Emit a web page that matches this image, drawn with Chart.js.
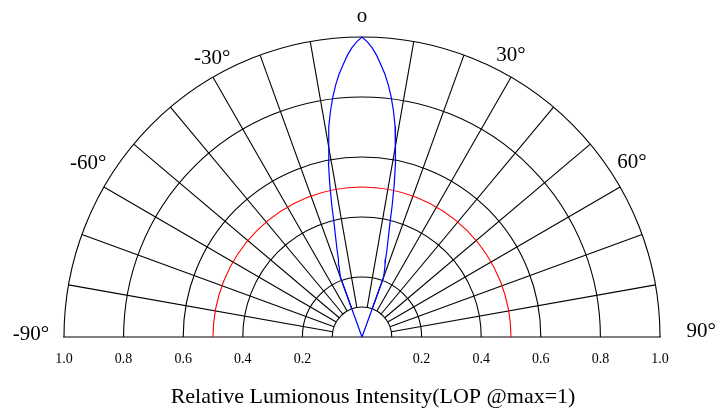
<!DOCTYPE html>
<html>
<head>
<meta charset="utf-8">
<script src="https://cdn.jsdelivr.net/npm/chart.js@4.4.1/dist/chart.umd.min.js"></script>
<style>
  html, body { margin: 0; padding: 0; background: #fff; }
  #wrap { width: 718px; height: 410px; }
</style>
</head>
<body>
<div id="wrap"><canvas id="c"></canvas></div>
<script>
// beam profile: angle (deg from axis) -> relative intensity
var angles    = [-90, -20, -19, -18, -17, -16, -15, -14, -13, -12, -11, -10, -9, -8, -7, -6, -5, -4, -3, -2, -1, 0,
                 1, 2, 3, 4, 5, 6, 7, 8, 9, 10, 11, 12, 13, 14, 15, 16, 17, 18, 19, 20, 90];
var intensity = [0, 0.21, 0.23, 0.25, 0.27, 0.305, 0.34, 0.385, 0.45, 0.52, 0.59, 0.645, 0.71, 0.76, 0.805, 0.845, 0.88, 0.91, 0.94, 0.965, 0.985, 1.0,
                 0.985, 0.965, 0.94, 0.91, 0.88, 0.845, 0.805, 0.76, 0.71, 0.645, 0.59, 0.52, 0.45, 0.385, 0.34, 0.305, 0.27, 0.25, 0.23, 0.21, 0];

var ringValues = [0.1, 0.2, 0.4, 0.6, 0.8, 1.0];
var halfRing = 0.5;
var spokeAngles = [-80, -70, -60, -50, -40, -30, -20, -10, 10, 20, 30, 40, 50, 60, 70, 80];
var tickValues = [-1, -0.8, -0.6, -0.4, -0.2, 0, 0.2, 0.4, 0.6, 0.8, 1];
var angleLabels = ['-90°', '-60°', '-30°', 'o', '30°', '60°', '90°'];
var titleText = 'Relative Lumionous Intensity(LOP @max=1)';

function toXY(a, r) {
  var t = a * Math.PI / 180;
  return { x: r * Math.sin(t), y: r * Math.cos(t) };
}

var beam = angles.map(function(a, i) { return toXY(a, intensity[i]); });

// where the angle labels sit, in axis units
var labelSpots = {
  '-90°': [-1.111, 0.007], '-60°': [-0.919, 0.58], '-30°': [-0.503, 0.93],
  'o': [0, 1.067], '30°': [0.5, 0.94], '60°': [0.906, 0.583], '90°': [1.138, 0.017]
};

var polarGrid = {
  id: 'polarGrid',
  beforeDatasetsDraw: function(chart) {
    var ctx = chart.ctx, xs = chart.scales.x, ys = chart.scales.y;
    var cx = xs.getPixelForValue(0), cy = ys.getPixelForValue(0);
    var kx = xs.getPixelForValue(1) - cx, ky = cy - ys.getPixelForValue(1);
    ctx.save();
    ctx.strokeStyle = '#000';
    ctx.lineWidth = 1.1;
    ringValues.forEach(function(r) {
      ctx.beginPath();
      ctx.ellipse(cx, cy, r * kx, r * ky, 0, Math.PI, 2 * Math.PI);
      ctx.stroke();
    });
    var r0 = ringValues[0], r1 = ringValues[ringValues.length - 1];
    spokeAngles.forEach(function(a) {
      var p = toXY(a, r0), q = toXY(a, r1);
      ctx.beginPath();
      ctx.moveTo(xs.getPixelForValue(p.x), ys.getPixelForValue(p.y));
      ctx.lineTo(xs.getPixelForValue(q.x), ys.getPixelForValue(q.y));
      ctx.stroke();
    });
    ctx.strokeStyle = '#ff0000';
    ctx.beginPath();
    ctx.ellipse(cx, cy, halfRing * kx, halfRing * ky, 0, Math.PI, 2 * Math.PI);
    ctx.stroke();
    ctx.restore();
  },
  afterDraw: function(chart) {
    var ctx = chart.ctx, xs = chart.scales.x, ys = chart.scales.y;
    ctx.save();
    ctx.fillStyle = '#000';
    ctx.textAlign = 'center';
    ctx.textBaseline = 'middle';
    ctx.font = '21px "Liberation Serif"';
    angleLabels.forEach(function(t) {
      var s = labelSpots[t];
      ctx.fillText(t, xs.getPixelForValue(s[0]), ys.getPixelForValue(s[1]));
    });
    ctx.font = '22px "Liberation Serif"';
    ctx.fillText(titleText, xs.getPixelForValue(0.037), ys.getPixelForValue(-0.2));
    ctx.restore();
  }
};

new Chart(document.getElementById('c'), {
  type: 'scatter',
  data: {
    datasets: [{
      data: beam,
      showLine: true,
      borderColor: '#0000ff',
      borderWidth: 1.2,
      pointRadius: 0,
      tension: 0,
      clip: false
    }]
  },
  options: {
    responsive: true,
    maintainAspectRatio: false,
    animation: false,
    layout: { padding: { left: 64, right: 58, top: 37, bottom: 0 } },
    plugins: { legend: { display: false }, tooltip: { enabled: false } },
    scales: {
      x: {
        type: 'linear', min: -1, max: 1,
        afterBuildTicks: function(s) { s.ticks = tickValues.map(function(v) { return { value: v }; }); },
        afterFit: function(s) { s.height = 73; },
        ticks: {
          callback: function(v) { return v === 0 ? '' : Math.abs(v).toFixed(1); },
          font: { family: 'Liberation Serif', size: 14 },
          color: '#000', padding: 14, maxRotation: 0, autoSkip: false
        },
        grid: { display: false, drawTicks: false },
        border: { display: true, color: '#808080', width: 2 }
      },
      y: { display: false, min: 0, max: 1 }
    }
  },
  plugins: [polarGrid]
});
</script>
</body>
</html>
